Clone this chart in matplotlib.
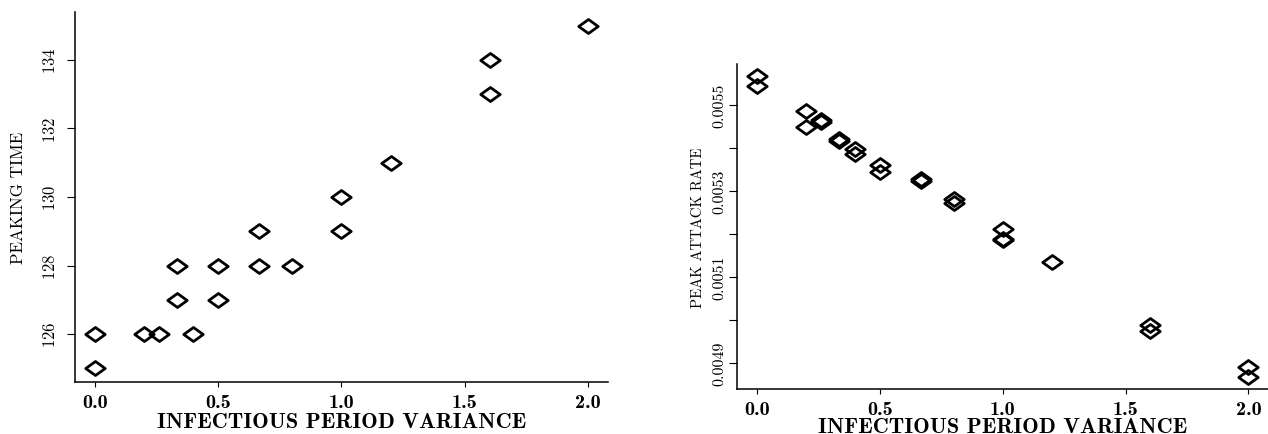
import matplotlib
matplotlib.use("Agg")
import matplotlib.pyplot as plt
from matplotlib.path import Path

# peaking time against infectious period variance
var_time = [0.0, 0.0, 0.2, 0.26, 1/3, 1/3, 0.4, 0.5, 0.5, 2/3, 2/3, 0.8,
            1.0, 1.0, 1.2, 1.6, 1.6, 2.0]
peak_time = [125, 126, 126, 126, 127, 128, 126, 127, 128, 128, 129, 128,
             129, 130, 131, 133, 134, 135]

# peak attack rate against infectious period variance
var_rate = [0.0, 0.0, 0.2, 0.2, 0.26, 0.26, 1/3, 1/3, 0.4, 0.4, 0.5, 0.5,
            2/3, 2/3, 0.8, 0.8, 1.0, 1.0, 1.0, 1.2, 1.6, 1.6, 2.0, 2.0]
peak_rate = [0.005567, 0.005544, 0.005486, 0.005449, 0.005465, 0.005461,
             0.005420, 0.005416, 0.005397, 0.005385, 0.005360, 0.005343,
             0.005327, 0.005323, 0.005281, 0.005271, 0.005211, 0.005188,
             0.005186, 0.005135, 0.004987, 0.004975, 0.004890, 0.004867]

x_ticks = [0.0, 0.5, 1.0, 1.5, 2.0]
x_ticklabels = ["0.0", "0.5", "1.0", "1.5", "2.0"]
time_ticks = [126, 128, 130, 132, 134]
rate_ticks = [0.0049, 0.0050, 0.0051, 0.0052, 0.0053, 0.0054, 0.0055]
rate_ticklabels = ["0.0049", "", "0.0051", "", "0.0053", "", "0.0055"]

plt.rcParams['font.family'] = 'cmr10'
plt.rcParams['axes.formatter.use_mathtext'] = True

# open diamond, a bit wider than tall
diamond = Path([(-1, 0), (0, 0.72), (1, 0), (0, -0.72), (-1, 0)],
               [Path.MOVETO, Path.LINETO, Path.LINETO, Path.LINETO, Path.CLOSEPOLY])

fig = plt.figure(figsize=(12.68, 4.35), dpi=100)
ax1 = fig.add_axes([0.0591, 0.1195, 0.4204, 0.8506])
ax2 = fig.add_axes([0.5815, 0.1034, 0.4185, 0.7471])


def style_axes(ax, ylab, ylab_size, ytick_size, xlab_y, ylab_x, ytick_pad):
    for s in ['top', 'right']:
        ax.spines[s].set_visible(False)
    for s in ['left', 'bottom']:
        ax.spines[s].set_linewidth(1.1)
    ax.margins(0.04)
    ax.set_xticks(x_ticks)
    ax.set_xticklabels(x_ticklabels, family='cmb10', fontsize=14.5)
    ax.tick_params(axis='x', direction='out', length=3.8, width=0.8, pad=4)
    ax.tick_params(axis='y', direction='out', length=6, width=0.8,
                   pad=ytick_pad, labelsize=ytick_size, labelrotation=90)
    for lab in ax.get_yticklabels():
        lab.set_va('center')
    ax.set_xlabel("INFECTIOUS PERIOD VARIANCE", family='cmb10', fontsize=16)
    ax.xaxis.set_label_coords(0.5, xlab_y)
    ax.xaxis.label.set_va('center')
    ax.set_ylabel(ylab, fontsize=ylab_size)
    ax.yaxis.set_label_coords(ylab_x, 0.5)
    ax.yaxis.label.set_va('center')


ax1.plot(var_time, peak_time, linestyle='none', marker=diamond, markersize=14,
         mfc='none', mec='black', mew=2.0)
ax1.set_yticks(time_ticks)
style_axes(ax1, "PEAKING TIME", 12.2, 12, -0.108, -0.107, 6)

ax2.plot(var_rate, peak_rate, linestyle='none', marker=diamond, markersize=14,
         mfc='none', mec='black', mew=2.0)
ax2.set_yticks(rate_ticks)
ax2.set_yticklabels(rate_ticklabels)
style_axes(ax2, "PEAK ATTACK RATE", 10.6, 11.5, -0.115, -0.074, 2)

fig.savefig("out.png", dpi=100)
